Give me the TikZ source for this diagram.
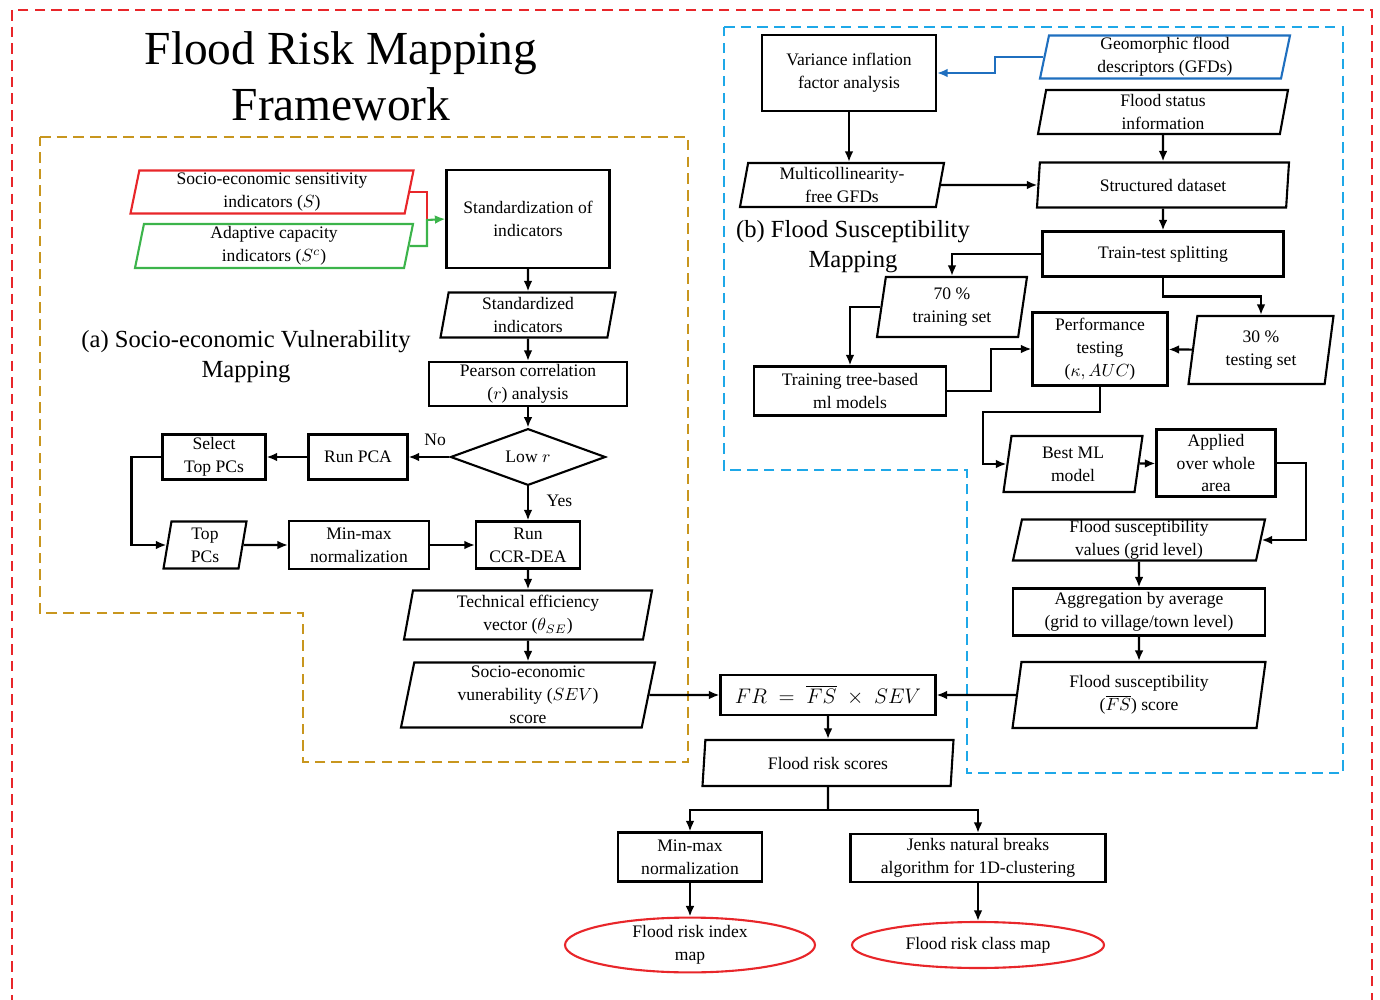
\documentclass[tikz,border=0pt]{standalone}
\usepackage{fontspec}
\setmainfont{Liberation Serif}
\usetikzlibrary{shapes.geometric,arrows.meta}
\definecolor{frame}{HTML}{E8262A}
\definecolor{gold}{HTML}{C8961E}
\definecolor{sky}{HTML}{1EA8E8}
\definecolor{geoblue}{HTML}{1F6FBF}
\definecolor{leaf}{HTML}{3CB44B}
\begin{document}
\begin{tikzpicture}[x=0.02cm, y=-0.02cm, line width=1.2pt,
  every node/.style={align=center, inner sep=0pt, font=\fontsize{10}{13}\selectfont},
  wh/.style 2 args={minimum width=#1*0.02cm, minimum height=#2*0.02cm},
  box/.style={draw, rectangle},
  io/.style={draw, trapezium, trapezium left angle=77, trapezium right angle=103, trapezium stretches body},
  test/.style={draw, diamond},
  term/.style={draw=frame, ellipse},
  arr/.style={-{Latex[length=6pt,width=5pt]}},
  region/.style={dashed, dash pattern=on 6pt off 3.5pt, line width=1pt}]
\useasboundingbox (0,0) rectangle (1380,1000);
% frames
\draw[region, frame] (12,10) rectangle (1372,1020);
\draw[region, gold] (40,137) -- (688,137) -- (688,762) -- (303,762) -- (303,613) -- (40,613) -- cycle;
\draw[region, sky] (724,27) -- (1343,27) -- (1343,773) -- (967,773) -- (967,470) -- (724,470) -- cycle;
% titles
\node[font=\fontsize{27}{32}\selectfont] (title) at (341,76) {Flood Risk Mapping\\Framework};
\node[font=\fontsize{14}{17}\selectfont] (tita) at (246,357) {(a) Socio-economic Vulnerability\\Mapping};
\node[font=\fontsize{14}{17}\selectfont] (titb) at (853,247) {(b) Flood Susceptibility\\Mapping};

% (a) vulnerability
\node[io, wh={283}{43}, draw=frame] (sens) at (272,192) {Socio-economic sensitivity\\indicators ($S$)};
\node[io, wh={278}{44}, draw=leaf] (adapt) at (274,246) {Adaptive capacity\\indicators ($S^c$)};
\node[box, wh={163}{98}] (std) at (528,219) {Standardization of\\indicators};
\node[io, wh={175}{45}] (stdd) at (528,315) {Standardized\\indicators};
\node[box, wh={198}{44}] (pear) at (528,384) {Pearson correlation\\($r$) analysis};
\node[test, wh={155}{50}] (lowr) at (528,457) {Low $r$};
\node[box, wh={99}{45}] (pca) at (358,457) {Run PCA};
\node[box, wh={103}{45}] (sel) at (214,457) {Select\\Top PCs};
\node[io, wh={83}{47}] (top) at (205,545) {Top\\PCs};
\node[box, wh={140}{48}] (mm1) at (359,545) {Min-max\\normalization};
\node[box, wh={104}{47}] (ccr) at (528,545) {Run\\CCR-DEA};
\node[io, wh={248}{49}] (tech) at (528,615) {Technical efficiency\\vector ($\theta_{SE}$)};
\node[io, wh={254}{65}] (sev) at (528,695) {Socio-economic\\vunerability ($SEV$)\\score};

\coordinate (j1) at (427,220);
\draw[frame] (sens.east) -| (j1);
\draw[leaf, arr] (adapt.east) -| (j1) -- (std.west);
\draw[arr] (std) -- (stdd);
\draw[arr] (stdd) -- (pear);
\draw[arr] (pear) -- (lowr);
\draw[arr] (lowr.west) -- (pca.east) node[pos=0.35, above=6pt] {No};
\draw[arr] (lowr.south) -- (ccr.north) node[pos=0.42, right=10pt] {Yes};
\draw[arr] (pca) -- (sel);
\draw[arr] (sel.west) -- ++(-30,0) |- (top.west);
\draw[arr] (top) -- (mm1);
\draw[arr] (mm1) -- (ccr);
\draw[arr] (ccr) -- (tech);
\draw[arr] (tech) -- (sev);

% (b) susceptibility
\node[box, wh={174}{76}] (vif) at (849,73) {Variance inflation\\factor analysis};
\node[io, wh={250}{43}, draw=geoblue] (geo) at (1165,57) {Geomorphic flood\\descriptors (GFDs)};
\node[io, wh={250}{44}] (stat) at (1163,112) {Flood status\\information};
\node[io, wh={204}{44}] (multi) at (842,185) {Multicollinearity-\\free GFDs};
\node[io, wh={252}{45}] (data) at (1163,185) {Structured dataset};
\node[box, wh={241}{45}] (split) at (1163,254) {Train-test splitting};
\node[io, wh={150}{60}] (tr70) at (952,307) {70 \%\\training set};
\node[io, wh={145}{68}] (te30) at (1261,350) {30 \%\\testing set};
\node[box, wh={135}{73}] (perf) at (1100,349) {Performance\\testing\\($\kappa, AUC$)};
\node[box, wh={192}{49}] (trees) at (850,391) {Training tree-based\\ml models};
\node[io, wh={139}{56}] (best) at (1073,464) {Best ML\\model};
\node[box, wh={119}{67}] (appl) at (1216,463) {Applied\\over whole\\area};
\node[io, wh={252}{41}] (fsv) at (1139,540) {Flood susceptibility\\values (grid level)};
\node[box, wh={252}{47}] (agg) at (1139,612) {Aggregation by average\\(grid to village/town level)};
\node[io, wh={253}{66}] (fs) at (1139,695) {Flood susceptibility\\($\overline{FS}$) score};

\draw[geoblue, arr] (geo.west) -- ++(-48,0) |- (vif.east);
\draw[arr] (vif.south) -- (vif.south |- multi.north);
\draw[arr] (stat) -- (data);
\draw[arr] (multi) -- (data);
\draw[arr] (data) -- (split);
\draw[arr] (split.west) -| (tr70.north);
\draw[arr] (split.south) -- ++(0,19) -| (te30.north);
\draw[arr] (te30) -- (perf);
\draw[arr] (tr70.west) -| (trees.north);
\draw[arr] (trees.east) -- ++(44,0) |- (perf.west);
\coordinate (k1) at (983,412);
\draw[arr] (perf.south) |- (k1) |- (best.west);
\draw[arr] (best) -- (appl);
\draw[arr] (appl.east) -- ++(29,0) |- (fsv.east);
\draw[arr] (fsv) -- (agg);
\draw[arr] (agg) -- (fs);

% flood risk
\node[box, wh={215}{40}, font=\fontsize{12}{14}\selectfont] (fr) at (828,695) {$FR\;=\;\overline{FS}\;\times\;SEV$};
\node[io, wh={251}{46}] (frs) at (828,763) {Flood risk scores};
\node[box, wh={144}{49}] (mm2) at (690,857) {Min-max\\normalization};
\node[box, wh={255}{48}] (jenks) at (978,858) {Jenks natural breaks\\algorithm for 1D-clustering};
\node[term, wh={250}{46}] (idx) at (690,945) {Flood risk index\\map};
\node[term, wh={252}{46}] (cls) at (978,945) {Flood risk class map};

\draw[arr] (sev.east) -- (fr.west);
\draw[arr] (fs.west) -- (fr.east);
\draw[arr] (fr) -- (frs);
\coordinate (k2) at (828,810);
\draw (frs.south) -- (k2);
\draw[arr] (k2) -| (mm2.north);
\draw[arr] (k2) -| (jenks.north);
\draw[arr] (mm2) -- (idx);
\draw[arr] (jenks) -- (cls);
\end{tikzpicture}
\end{document}
